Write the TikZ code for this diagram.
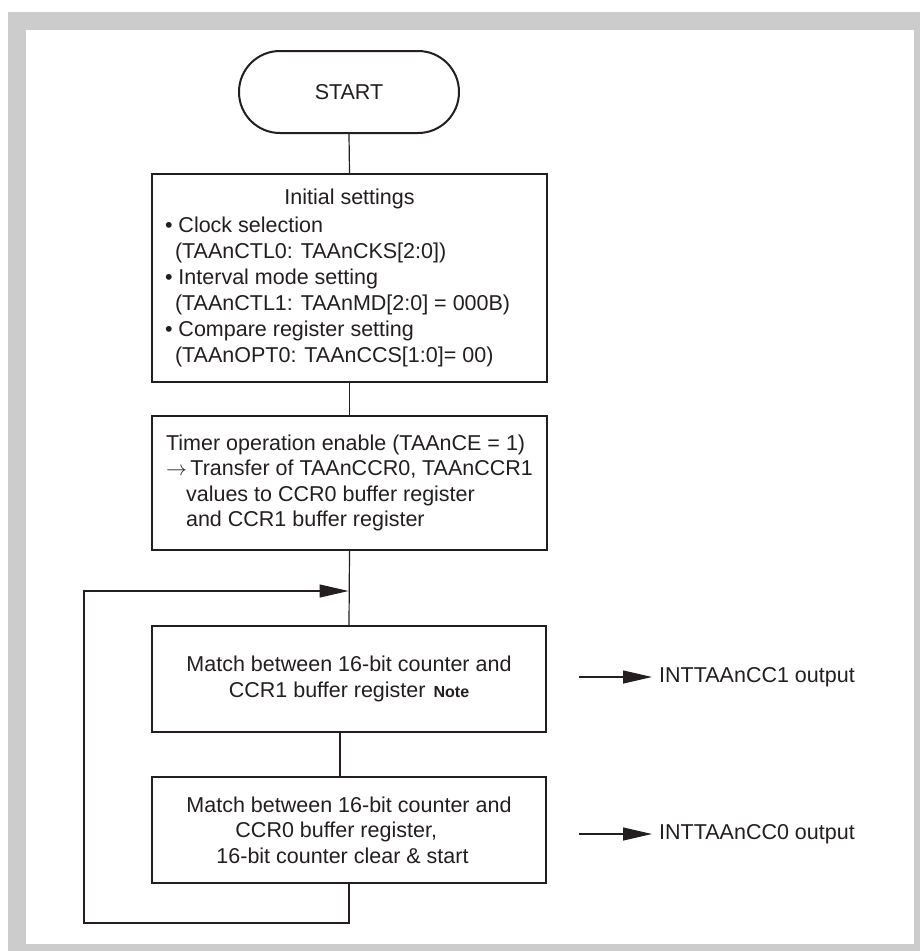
\documentclass[tikz,border=0pt]{standalone}
\usepackage{fontspec}
\setmainfont{Liberation Sans}
\usetikzlibrary{arrows.meta}
\definecolor{ink}{HTML}{231F20}
\definecolor{framegray}{HTML}{CCCCCC}
\begin{document}
\begin{tikzpicture}[x=1pt,y=1pt,
  every node/.style={font=\fontsize{21.5}{25.5}\selectfont, text=ink},
  procbox/.style={draw=ink, line width=1.6pt, minimum width=395pt, inner xsep=0pt, inner ysep=0pt, align=left},
  term/.style={draw=ink, line width=2pt, rounded corners=40.9pt, minimum width=220pt, minimum height=82pt},
  conn/.style={draw=ink, line width=1.2pt},
  arr/.style={conn, -{Triangle[length=29pt,width=13pt]}},
  lbl/.style={anchor=west, inner sep=0pt}]
\useasboundingbox (0,0) rectangle (920,-951);
\fill[framegray] (8,-12) rectangle (920,-951);
\fill[white] (26,-30) rectangle (914,-944);

\node[term] (start) at (349,-92) {START};

\node[procbox, minimum height=208pt, font=\fontsize{21.5}{26}\selectfont] (init) at (349.5,-278) {%
\makebox[369pt][c]{Initial settings}\\[2pt]
• Clock selection\\
\hspace*{10pt}(TAAnCTL0: TAAnCKS[2:0])\\
• Interval mode setting\\
\hspace*{10pt}(TAAnCTL1: TAAnMD[2:0] = 000B)\\
• Compare register setting\\
\hspace*{10pt}(TAAnOPT0: TAAnCCS[1:0]= 00)};

\node[procbox, minimum height=134pt] (enable) at (349.5,-483) {%
Timer operation enable (TAAnCE = 1)\\
$\rightarrow$\,Transfer of TAAnCCR0, TAAnCCR1\\
\hspace*{20pt}values to CCR0 buffer register\\
\hspace*{20pt}and CCR1 buffer register};

\node[procbox, minimum width=394pt, minimum height=106pt, align=center] (m1) at (349,-679) {%
Match between 16-bit counter and\\
CCR1 buffer register\hspace{8pt}{\fontsize{16}{16}\selectfont\bfseries Note}};

\node[procbox, minimum width=394pt, minimum height=106pt] (m0) at (349,-830) {%
Match between 16-bit counter and\\
\hspace*{49pt}CCR0 buffer register,\\
\hspace*{30pt}16-bit counter clear \& start};

\node[lbl] (o1) at (659,-677) {INTTAAnCC1 output};
\node[lbl] (o0) at (659,-834) {INTTAAnCC0 output};
\coordinate (o1s) at (579,-677);
\coordinate (o0s) at (579,-834);
\coordinate (loopbot) at (84,-923);
\coordinate (loopin) at (348.5,-591);

\draw[conn] (start.south) -- (init.north);
\draw[conn] (init.south) -- (enable.north);
\draw[conn] (enable.south) -- (m1.north);
\draw[conn] ([xshift=-9pt]m1.south) -- ([xshift=-9pt]m0.north);
\draw[arr] (m0.south) -- (m0.south |- loopbot) -- (loopbot) -- (loopbot |- loopin) -- (loopin);
\draw[arr, shorten >=7pt] (o1s) -- (o1.west);
\draw[arr, shorten >=7pt] (o0s) -- (o0.west);
\end{tikzpicture}
\end{document}
